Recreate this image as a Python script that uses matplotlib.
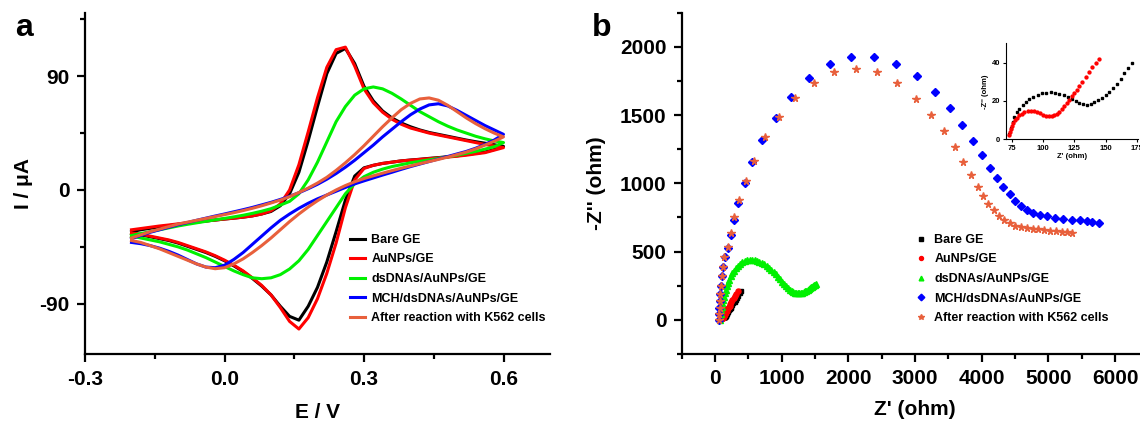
import matplotlib
matplotlib.use("Agg")
import matplotlib.pyplot as plt
from matplotlib.ticker import MultipleLocator

W, H = 1140, 422

BLACK = "#000000"
RED = "#ff0000"
GREEN = "#00f000"
BLUE = "#0000ff"
ORANGE = "#e8603c"

plt.rcParams.update({
    "font.family": ["Liberation Sans", "DejaVu Sans"],
    "font.weight": "bold",
    "axes.labelweight": "bold",
    "axes.linewidth": 1.6,
    "xtick.direction": "out",
    "ytick.direction": "out",
    "xtick.major.width": 1.6,
    "ytick.major.width": 1.6,
    "xtick.minor.width": 1.6,
    "ytick.minor.width": 1.6,
    "xtick.major.size": 6,
    "ytick.major.size": 6,
    "xtick.minor.size": 3.5,
    "ytick.minor.size": 3.5,
})

# ---------------------------------------------------------------------------
# (a) cyclic voltammograms: potential grid, anodic (fwd) and cathodic (rev)
# branches, both stored in ascending potential order
# ---------------------------------------------------------------------------
E = [-0.20, -0.18, -0.16, -0.14, -0.12, -0.10, -0.08, -0.06, -0.04, -0.02,
     0.00, 0.02, 0.04, 0.06, 0.08, 0.10, 0.12, 0.14, 0.16, 0.18,
     0.20, 0.22, 0.24, 0.26, 0.28, 0.30, 0.32, 0.34, 0.36, 0.38,
     0.40, 0.42, 0.44, 0.46, 0.48, 0.50, 0.52, 0.54, 0.56, 0.58, 0.60]

bare_fwd = [-33, -31.5, -30.3, -29.2, -28.2, -27.2, -26.3, -25.4, -24.6, -23.8,
            -23, -22.3, -21.5, -20.5, -19, -17, -12.5, -3, 14, 39,
            66, 92, 108, 112, 100, 82, 70.5, 62.5, 57, 53,
            50, 47.5, 45.5, 44, 42.5, 41, 39.5, 38.2, 37, 35.8, 34.5]
bare_rev = [-34.5, -35.5, -37, -38.5, -40, -42, -44.5, -47, -49.5, -52.5,
            -56, -60, -64.5, -70, -76, -83, -92, -100, -103, -92,
            -77, -57, -33, -8, 11, 17.5, 19.5, 21, 22, 23,
            23.7, 24.3, 25, 25.6, 26.3, 27, 28, 29, 30, 32, 34.5]

au_fwd = [-31.5, -30.5, -29.5, -28.5, -27.7, -26.8, -26, -25.2, -24.5, -23.8,
          -23, -22.3, -21.5, -20.5, -19, -16.5, -11, 0, 20, 46,
          73, 97, 111, 113, 98, 80, 69, 61.5, 56, 52,
          49, 47, 45, 43.5, 42, 40.5, 39, 37.5, 36, 34.8, 33.5]
au_rev = [-34, -35, -36.5, -38, -39.5, -41.5, -44, -46.5, -49, -52,
          -55.5, -59.5, -64, -69.5, -75.5, -83, -93, -104, -110, -101,
          -86, -66, -42, -14, 8, 17, 19.5, 21, 22, 23,
          23.6, 24.2, 24.8, 25.4, 26, 26.7, 27.5, 28.5, 29.5, 31.5, 33.5]

ds_fwd = [-36, -34.5, -33, -31.5, -30, -28.5, -27.2, -26, -24.8, -23.6,
          -22.5, -21.3, -20, -18.5, -16.8, -14.8, -12, -9, -3, 8,
          22, 38, 54, 66, 75, 80, 81.5, 80, 76.5, 72,
          67, 62, 58, 54, 50.5, 47.5, 45, 42.5, 40.5, 38.8, 37.5]
ds_rev = [-36.5, -38, -39.5, -41, -43, -45, -47.5, -50.5, -53.5, -57,
          -60.5, -64, -67, -69.5, -70.2, -69.5, -67, -62.5, -56, -47,
          -36, -25, -14, -3, 5, 10.5, 14, 16.5, 18.5, 20,
          21.5, 22.7, 23.8, 25, 26.2, 27.5, 29, 30.5, 32.3, 34.2, 37.5]

mch_fwd = [-38.5, -36, -33.5, -31.5, -29.5, -27.5, -25.8, -24, -22.3, -20.6,
           -19, -17.3, -15.6, -13.8, -11.8, -9.8, -7.5, -5, -2.2, 1,
           4.5, 8.5, 13, 18, 23.5, 29.5, 35.5, 42, 48, 54,
           59.5, 64, 67.3, 68.2, 66.5, 63, 59, 55, 51, 47.5, 44]
mch_rev = [-41.5, -42.5, -44, -46, -48.5, -51.5, -55, -58.5, -61, -61.5,
           -59.5, -55, -49.5, -43, -36.5, -30, -24, -19, -14.5, -10.5,
           -7, -4, -1, 2, 4.8, 7.2, 9.5, 11.8, 14, 16.3,
           18.5, 20.5, 22.5, 24.5, 26.5, 28.5, 30.5, 33, 36, 39.5, 44]

k562_fwd = [-38, -35.5, -33, -31, -29, -27, -25.5, -24, -22.5, -21,
            -19.5, -18, -16.3, -14.5, -12.5, -10.3, -8, -5.3, -2, 1.5,
            5.5, 10, 15.5, 21.5, 28, 35, 42.5, 50, 57, 63.5,
            68.5, 72, 72.8, 71, 67, 62, 57, 52.5, 48.5, 45, 42]
k562_rev = [-40, -41.5, -44, -46.5, -49.5, -52.5, -55.5, -58.5, -61, -62.3,
            -61.5, -58.5, -54.5, -49.5, -44, -38, -31.5, -25, -19, -13.5,
            -8.5, -4, 0, 3.5, 6.5, 9, 11.2, 13.3, 15.3, 17.2,
            19, 20.8, 22.5, 24.2, 26, 28, 30, 32.5, 35.5, 38.5, 42]

labels = ["Bare GE", "AuNPs/GE", "dsDNAs/AuNPs/GE", "MCH/dsDNAs/AuNPs/GE",
          "After reaction with K562 cells"]
colors = [BLACK, RED, GREEN, BLUE, ORANGE]

# ---------------------------------------------------------------------------
# (b) Nyquist plots, Z' and -Z'' in ohm
# ---------------------------------------------------------------------------
bare_zr = [73, 74, 75.5, 77, 79, 81, 83.5, 86, 89, 92,
           95.5, 99, 102.5, 106, 109.5, 113, 116.5, 120, 123, 126,
           129, 132, 135, 138, 141, 144, 147, 150, 153, 156,
           159, 162, 165, 168, 171, 175, 180, 186, 193, 200,
           210, 220, 232, 245, 260, 275, 292, 310, 330, 350, 370, 385]
bare_zi = [3, 6, 9, 11.5, 14, 16, 18, 19.6, 21, 22.2,
           23.2, 23.9, 24.3, 24.4, 24.2, 23.7, 23, 22, 21, 20,
           19, 18.3, 18, 18.4, 19.3, 20.5, 21.7, 23, 24.5, 26.5,
           29, 31.5, 34.5, 37, 39.5, 43, 47, 52, 57, 63,
           70, 78, 87, 97, 108, 120, 133, 147, 162, 178, 195, 210]

au_zr = [73, 73.5, 74, 75, 76, 77.5, 79, 81, 83, 85,
         87.5, 90, 92.5, 95, 97.5, 100, 102.5, 105, 107, 109,
         111, 113, 115, 117, 119, 121, 123, 125, 127, 129,
         131.5, 134, 136.5, 139, 142, 145, 149, 154, 160, 167,
         175, 184, 194, 205, 217, 230, 245, 261, 278, 297, 318, 340]
au_zi = [2.5, 4, 5.5, 7, 8.5, 10, 11.3, 12.5, 13.4, 14,
         14.5, 14.7, 14.6, 14.2, 13.6, 12.9, 12.3, 12, 12, 12.4,
         13.2, 14.3, 15.8, 17.4, 19, 20.6, 22.3, 24, 25.8, 27.8,
         30, 32.3, 35, 37.5, 40, 42, 45.5, 50, 55, 61,
         68, 76, 84, 94, 104, 115, 128, 142, 157, 172, 190, 210]

ds_zr = [75, 80, 86, 93, 101, 110, 120, 132, 145, 160,
         176, 194, 214, 236, 260, 286, 314, 344, 376, 410,
         445, 481, 518, 555, 592, 629, 666, 702, 738, 774,
         809, 844, 878, 912, 945, 977, 1008, 1038, 1067, 1095,
         1122, 1148, 1173, 1197, 1220, 1243, 1266, 1288, 1309, 1329,
         1349, 1368, 1387, 1405, 1423, 1440, 1457, 1473, 1489, 1505, 1520]
ds_zi = [0, 20, 45, 70, 95, 120, 145, 170, 195, 220,
         245, 270, 295, 318, 340, 361, 380, 397, 411, 422,
         430, 435, 438, 438, 436, 432, 426, 418, 407, 395,
         382, 367, 351, 334, 316, 298, 280, 263, 248, 234,
         222, 212, 205, 200, 198, 197, 197, 198, 200, 204,
         209, 214, 220, 226, 232, 238, 243, 248, 252, 256, 260]

mch_zr = [58, 60, 63, 68, 75, 85, 100, 120, 150, 197,
          235, 285, 350, 443, 558, 706, 909, 1139, 1412, 1719,
          2042, 2387, 2721, 3027, 3295, 3520, 3700, 3865, 4001, 4127,
          4226, 4324, 4418, 4505, 4593, 4680, 4773, 4872, 4976, 5091,
          5222, 5359, 5474, 5578, 5660, 5753]
mch_zi = [0, 40, 85, 135, 190, 250, 320, 390, 460, 528,
          623, 730, 856, 1002, 1153, 1316, 1482, 1635, 1774, 1873,
          1927, 1927, 1876, 1783, 1669, 1550, 1426, 1311, 1207, 1112,
          1036, 971, 920, 873, 835, 805, 783, 769, 759, 749,
          740, 730, 730, 725, 718, 710]

k562_zr = [62, 64, 67, 71, 77, 85, 97, 113, 140, 197,
           241, 290, 361, 460, 591, 750, 952, 1204, 1478, 1790,
           2113, 2436, 2732, 3011, 3235, 3432, 3591, 3717, 3837, 3936,
           4018, 4100, 4176, 4253, 4335, 4418, 4505, 4587, 4675, 4762,
           4850, 4938, 5025, 5113, 5200, 5282, 5359]
k562_zi = [0, 40, 85, 135, 190, 250, 320, 390, 460, 535,
           637, 754, 881, 1015, 1165, 1336, 1489, 1625, 1737, 1813,
           1839, 1813, 1732, 1620, 1501, 1380, 1265, 1156, 1058, 973,
           905, 847, 803, 764, 732, 706, 689, 679, 672, 667,
           662, 657, 654, 650, 645, 642, 637]

# high-frequency end shown in the inset
inset_bare_max = 171
inset_au_max = 145


def px_axes(left, top, right, bottom):
    return [left / W, 1 - bottom / H, (right - left) / W, (bottom - top) / H]


def style_axes(ax):
    ax.spines["top"].set_visible(False)
    ax.spines["right"].set_visible(False)
    for lab in ax.get_xticklabels() + ax.get_yticklabels():
        lab.set_fontweight("bold")


fig = plt.figure(figsize=(W / 100, H / 100), dpi=100)

# ---------------------------- panel a --------------------------------------
ax = fig.add_axes(px_axes(85, 13, 550, 354.3))
cv = [(bare_fwd, bare_rev), (au_fwd, au_rev), (ds_fwd, ds_rev),
      (mch_fwd, mch_rev), (k562_fwd, k562_rev)]
for (fwd, rev), c, lab in zip(cv, colors, labels):
    ax.plot(E + E[::-1], fwd + rev[::-1], color=c, lw=2.2, label=lab,
            solid_joinstyle="round")
ax.set_xlim(-0.3, 0.7)
ax.set_ylim(-130, 140)
ax.xaxis.set_major_locator(MultipleLocator(0.3))
ax.xaxis.set_minor_locator(MultipleLocator(0.15))
ax.yaxis.set_major_locator(MultipleLocator(90))
ax.yaxis.set_minor_locator(MultipleLocator(45))
ax.set_xticks([-0.3, 0.0, 0.3, 0.6])
ax.set_xticklabels(["-0.3", "0.0", "0.3", "0.6"])
ax.set_yticks([-90, 0, 90])
ax.set_yticklabels(["-90", "0", "90"])
ax.tick_params(axis="both", which="major", labelsize=15, pad=5)
style_axes(ax)
ax.set_xlabel("E / V", fontsize=15)
ax.xaxis.set_label_coords(0.5, -0.142)
ax.xaxis.label.set_va("top")
ax.set_ylabel("I / \u03bcA", fontsize=15)
ax.yaxis.set_label_coords(-0.112, 0.5)
ax.legend(loc="upper left", bbox_to_anchor=(350 / W, 1 - 234 / H),
          bbox_transform=fig.transFigure, frameon=False,
          handlelength=1.2, handletextpad=0.5, labelspacing=0.6,
          borderpad=0, borderaxespad=0, prop={"weight": "bold", "size": 9})
fig.text(15 / W, 1 - 36 / H, "a", fontsize=23, fontweight="bold",
         va="baseline")

# ---------------------------- panel b --------------------------------------
bx = fig.add_axes(px_axes(681.7, 12.7, 1148.5, 354))
eis = [(bare_zr, bare_zi, "s", 3.2), (au_zr, au_zi, "o", 3.6),
       (ds_zr, ds_zi, "^", 4.2), (mch_zr, mch_zi, "D", 4.2),
       (k562_zr, k562_zi, "*", 5.5)]
for (zr, zi, m, ms), c, lab in zip(eis, colors, labels):
    bx.plot(zr, zi, ls="none", marker=m, ms=ms, color=c, mec=c, label=lab)
bx.set_xlim(-500, 6500)
bx.set_ylim(-250, 2250)
bx.xaxis.set_major_locator(MultipleLocator(1000))
bx.xaxis.set_minor_locator(MultipleLocator(500))
bx.yaxis.set_major_locator(MultipleLocator(500))
bx.yaxis.set_minor_locator(MultipleLocator(250))
bx.set_xticks([0, 1000, 2000, 3000, 4000, 5000, 6000])
bx.set_yticks([0, 500, 1000, 1500, 2000])
bx.tick_params(axis="both", which="major", labelsize=15, pad=5)
style_axes(bx)
bx.set_xlabel("Z' (ohm)", fontsize=15)
bx.xaxis.set_label_coords((915 - 681.7) / (1148.5 - 681.7), -0.135)
bx.xaxis.label.set_va("top")
bx.set_ylabel("-Z'' (ohm)", fontsize=15)
bx.yaxis.set_label_coords(-0.162, 0.5)
bx.legend(loc="upper left", bbox_to_anchor=(915 / W, 1 - 234 / H),
          bbox_transform=fig.transFigure, frameon=False,
          handlelength=1.0, handletextpad=0.55, labelspacing=0.6,
          borderpad=0, borderaxespad=0, numpoints=1, markerscale=0.8,
          prop={"weight": "bold", "size": 9})
fig.text(592 / W, 1 - 36 / H, "b", fontsize=23, fontweight="bold",
         va="baseline")

# ---------------------------- inset ----------------------------------------
ix = fig.add_axes(px_axes(1005.7, 43.3, 1138, 139.3))
n_bare = sum(1 for v in bare_zr if v <= inset_bare_max)
n_au = sum(1 for v in au_zr if v <= inset_au_max)
ix.plot(bare_zr[:n_bare], bare_zi[:n_bare], ls="none", marker="s", ms=1.9,
        color=BLACK)
ix.plot(au_zr[:n_au], au_zi[:n_au], ls="none", marker="o", ms=2.1,
        color=RED)
ix.set_xlim(70, 176)
ix.set_ylim(0, 50)
ix.set_xticks([75, 100, 125, 150, 175])
ix.set_yticks([0, 20, 40])
for s in ix.spines.values():
    s.set_linewidth(0.8)
ix.tick_params(axis="both", which="major", labelsize=5.5, pad=1.5,
               length=2.5, width=0.8)
style_axes(ix)
ix.set_xlabel("Z' (ohm)", fontsize=5.5, labelpad=1)
ix.set_ylabel("-Z'' (ohm)", fontsize=5.5, labelpad=2)

fig.savefig("out.png", dpi=100)
